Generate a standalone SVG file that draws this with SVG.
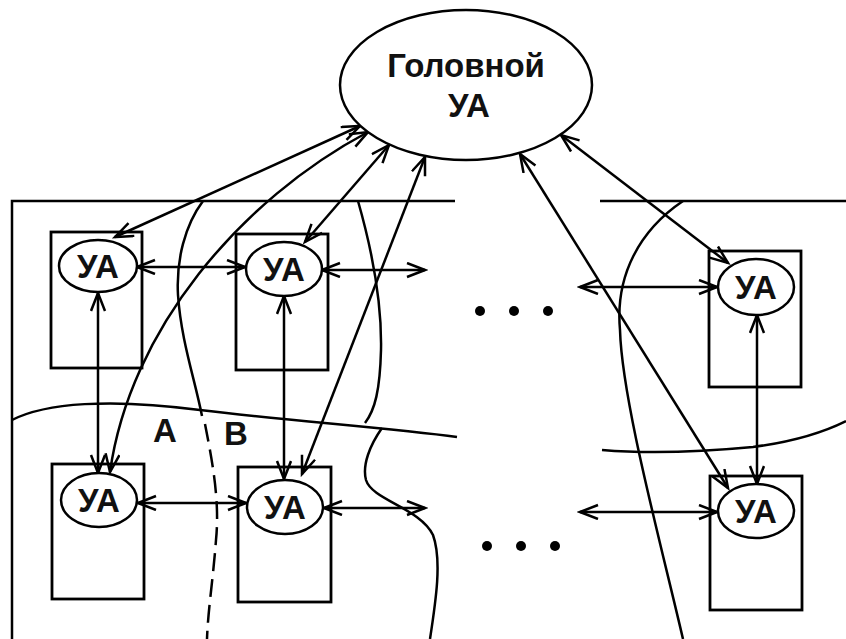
<svg xmlns="http://www.w3.org/2000/svg" width="846" height="639" viewBox="0 0 846 639">
<defs>
<style>
.ln{fill:none;stroke:#000;stroke-width:2.5}
.bx{fill:none;stroke:#000;stroke-width:2.8}
.el{fill:#fff;stroke:#000;stroke-width:2.5}
.t{font-family:"Liberation Sans",Arial,sans-serif;font-weight:bold;font-size:33px;text-anchor:middle;fill:#111}
.ar{fill:none;stroke:#000;stroke-width:2.5;marker-start:url(#ah);marker-end:url(#ah)}
</style>
<marker id="ah" markerUnits="userSpaceOnUse" markerWidth="22" markerHeight="18" refX="19" refY="8" orient="auto-start-reverse">
<path d="M1,1 L19,8 L1,15" fill="none" stroke="#000" stroke-width="2.5"/>
</marker>
</defs>
<rect width="846" height="639" fill="#fff"/>

<g id="boundaries">
<path class="ln" d="M12,639 L12,201 L455,201"/>
<path class="ln" d="M600,201 L846,201"/>
<path class="ln" d="M12,420 C45,403 110,398 200,410 C280,420 390,428 457,437"/>
<path class="ln" d="M602,450 C650,454 700,452 753,447 C790,442 820,434 846,421"/>
<path class="ln" d="M203,201 C185,225 176,260 178,295 C181,340 195,380 202,416"/>
<path class="ln" stroke-dasharray="18,8" d="M205,424 C212,460 220,500 216,540 C213,580 208,610 207,639"/>
<path class="ln" d="M358,201 C372,250 382,300 381,350 C380,390 375,410 365,423"/>
<path class="ln" d="M382,428 C370,445 362,465 366,480 C372,500 420,508 433,535 C442,560 436,600 430,639"/>
<path class="ln" d="M683,201 C640,230 615,275 620,330 C622,400 660,540 683,639"/>
</g>

<g id="region-labels">
<text class="t" x="165" y="442">A</text>
<text class="t" x="236" y="445">B</text>
</g>

<g id="ellipsis-dots">
<circle cx="480" cy="311" r="5"/>
<circle cx="514" cy="311" r="5"/>
<circle cx="548" cy="311" r="5"/>
<circle cx="487" cy="546" r="5"/>
<circle cx="521" cy="546" r="5"/>
<circle cx="555" cy="546" r="5"/>
</g>

<g id="box-tl"><rect class="bx" x="51" y="232" width="91" height="136"/></g>
<g id="box-tm"><rect class="bx" x="236" y="234" width="92" height="136"/></g>
<g id="box-tr"><rect class="bx" x="709" y="251" width="92" height="136"/></g>
<g id="box-bl"><rect class="bx" x="52" y="464" width="92" height="135"/></g>
<g id="box-bm"><rect class="bx" x="238" y="467" width="93" height="135"/></g>
<g id="box-br"><rect class="bx" x="710" y="476" width="92" height="134"/></g>

<g id="connectors">
<path class="ar" d="M360,126 L115,237"/>
<path class="ar" d="M368,132 C240,200 130,330 110,472"/>
<path class="ar" d="M389,145 L305,242"/>
<path class="ar" d="M425,157 L302,474"/>
<path class="ar" d="M561,135 L728,263"/>
<path class="ar" d="M520,154 L728,488"/>
<path class="ar" d="M137,267 L245,267"/>
<path class="ar" d="M322,270 L425,270"/>
<path class="ar" d="M580,287 L717,287"/>
<path class="ar" d="M138,503 L246,503"/>
<path class="ar" d="M324,508 L425,508"/>
<path class="ar" d="M580,512 L717,512"/>
<path class="ar" d="M98,293 L98,473"/>
<path class="ar" d="M284,296 L284,479"/>
<path class="ar" d="M757,315 L757,484"/>
</g>

<g id="head">
<ellipse class="el" cx="466" cy="85" rx="126" ry="75"/>
<text class="t" x="466" y="77">Головной</text>
<text class="t" x="469" y="117">УА</text>
</g>
<g id="ua-tl"><ellipse class="el" cx="98" cy="266" rx="39" ry="26"/><text class="t" x="98" y="278">УА</text></g>
<g id="ua-tm"><ellipse class="el" cx="284" cy="269" rx="38" ry="27"/><text class="t" x="284" y="281">УА</text></g>
<g id="ua-tr"><ellipse class="el" cx="756" cy="287" rx="38" ry="28"/><text class="t" x="756" y="299">УА</text></g>
<g id="ua-bl"><ellipse class="el" cx="99" cy="500" rx="38" ry="27"/><text class="t" x="99" y="512">УА</text></g>
<g id="ua-bm"><ellipse class="el" cx="285" cy="507" rx="38" ry="27"/><text class="t" x="285" y="519">УА</text></g>
<g id="ua-br"><ellipse class="el" cx="756" cy="511" rx="38" ry="27"/><text class="t" x="756" y="523">УА</text></g>
</svg>
